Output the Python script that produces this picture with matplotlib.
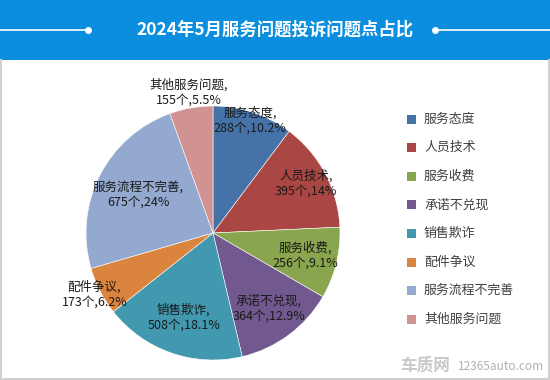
import matplotlib
matplotlib.use("Agg")
import matplotlib.pyplot as plt
from matplotlib.patches import Rectangle
import numpy as np

plt.rcParams['font.family'] = ['Noto Sans CJK SC', 'DejaVu Sans']

# data
categories = ['服务态度', '人员技术', '服务收费', '承诺不兑现', '销售欺诈', '配件争议', '服务流程不完善', '其他服务问题']
counts = [288, 395, 256, 364, 508, 173, 675, 155]
pct_labels = ['10.2%', '14%', '9.1%', '12.9%', '18.1%', '6.2%', '24%', '5.5%']
colors = ['#4572A7', '#AA4643', '#89A54E', '#71588F', '#4198AF', '#DB843D', '#93A9CF', '#D19392']
title = '2024年5月服务问题投诉问题点占比'

# label distance from centre (fraction of radius)
label_r = [0.93, 0.83, 0.75, 0.74, 0.70, 1.05, 0.66, 1.12]

W, H = 550, 380
fig = plt.figure(figsize=(W / 100, H / 100), dpi=100)
fig.patch.set_facecolor('white')

# header band
fig.patches.append(Rectangle((0, 320 / H), 1, 60 / H, transform=fig.transFigure,
                             facecolor='#0B8EDE', edgecolor='none', zorder=0))
fig.text(0.5, 1 - 30 / H, title, color='white', fontsize=12.5, fontweight='bold',
         ha='center', va='center')
fig.add_artist(plt.Line2D([0, 88 / W], [1 - 30 / H] * 2, color='white', lw=1.2))
fig.add_artist(plt.Line2D([88 / W], [1 - 30 / H], marker='o', ms=4, color='white'))
fig.add_artist(plt.Line2D([435 / W, 1], [1 - 30 / H] * 2, color='white', lw=1.2))
fig.add_artist(plt.Line2D([435 / W], [1 - 30 / H], marker='o', ms=4, color='white'))

# panel border
for xs, ys in [([1 / W, 1 / W], [0, 320 / H]), ([1 - 1 / W, 1 - 1 / W], [0, 320 / H]),
               ([0, 1], [1 / H, 1 / H])]:
    fig.add_artist(plt.Line2D(xs, ys, color='#D0D0D0', lw=1.5))

# pie
cx, cy, r = 213, 233, 127
ax = fig.add_axes([(cx - r) / W, (H - cy - r) / H, 2 * r / W, 2 * r / H])
wedges, _ = ax.pie(counts, colors=colors, startangle=90, counterclock=False,
                   radius=1, wedgeprops=dict(linewidth=0.4, edgecolor='white'))
ax.set_xlim(-1, 1)
ax.set_ylim(-1, 1)
ax.set_aspect('equal')
ax.axis('off')

total = sum(counts)
cum = 0
for i, (name, n, p) in enumerate(zip(categories, counts, pct_labels)):
    mid = np.deg2rad(90 - (cum + n / 2) / total * 360)
    cum += n
    x, y = label_r[i] * np.cos(mid), label_r[i] * np.sin(mid)
    ax.text(x, y, f'{name},\n{n}个,{p}', ha='center', va='center', fontsize=9,
            color='#1a1a1a', linespacing=1.2, clip_on=False)

# legend
ly0 = 119
for i, (name, c) in enumerate(zip(categories, colors)):
    y = 1 - (ly0 + i * 28.6) / H
    fig.patches.append(Rectangle((407 / W, y - 4.5 / H), 9 / W, 9 / H,
                                 transform=fig.transFigure, facecolor=c, edgecolor='none'))
    fig.text(424 / W, y, name, fontsize=9.3, color='#404040', va='center', ha='left')

# watermark
fig.text(400 / W, 1 - 366 / H, '车质网', fontsize=12, fontweight='bold', color='#C8C8C8',
         va='center', ha='left')
fig.text(458 / W, 1 - 367 / H, '12365auto.com', fontsize=8.5, color='#B0B0B0',
         va='center', ha='left')

fig.savefig('out.png', dpi=100)
